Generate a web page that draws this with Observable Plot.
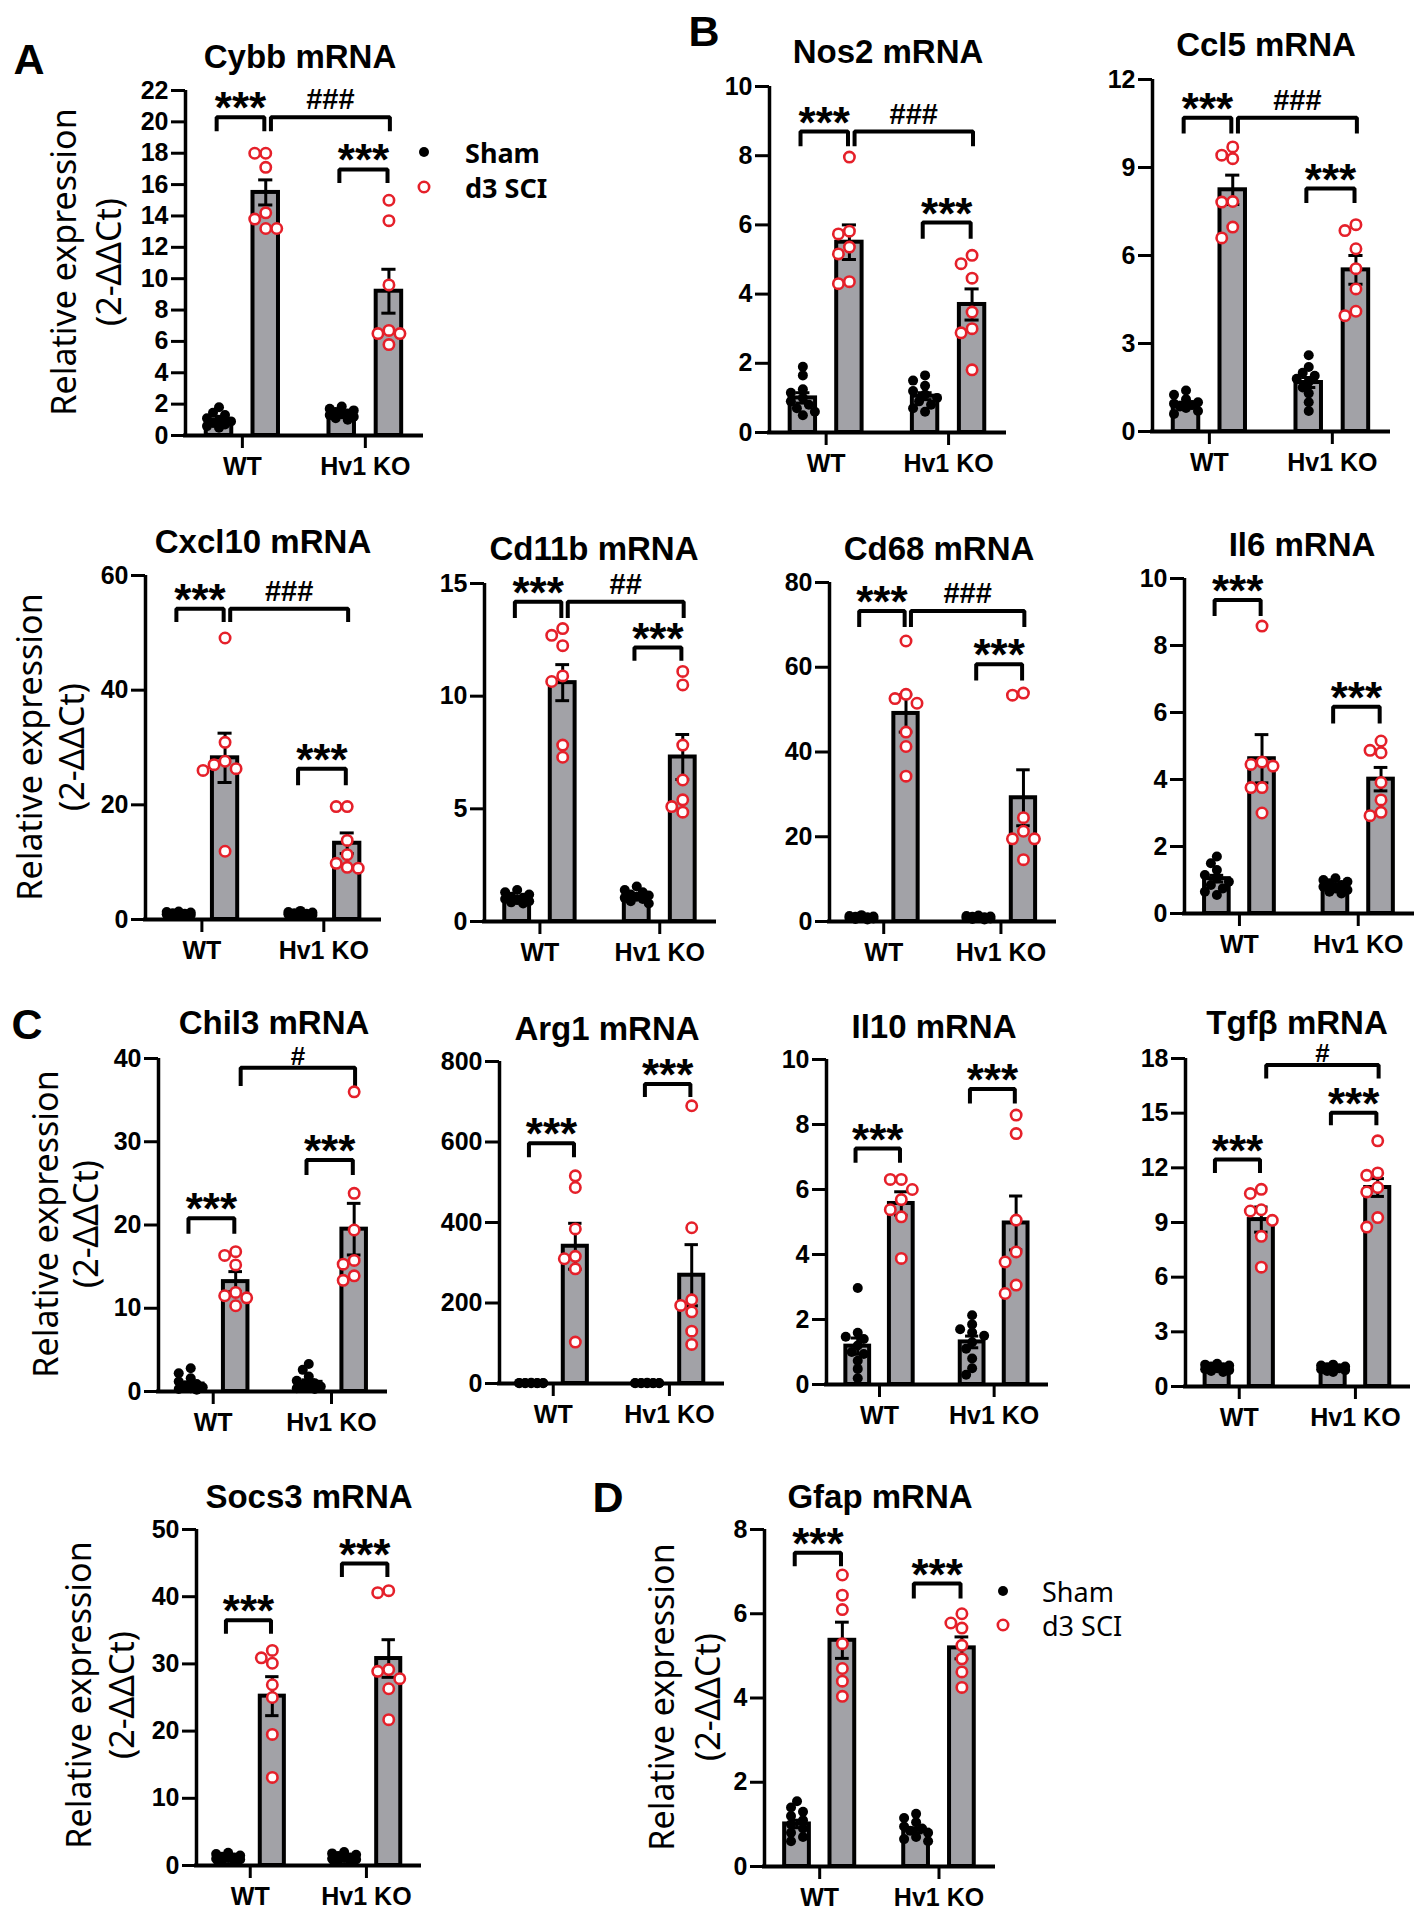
<!DOCTYPE html>
<html><head><meta charset="utf-8">
<script src="https://cdn.jsdelivr.net/npm/d3@7"></script>
<script src="https://cdn.jsdelivr.net/npm/@observablehq/plot@0.6"></script>
<style>
html,body{margin:0;padding:0;background:#fff;}
#page{position:relative;width:1421px;height:1920px;overflow:hidden;background:#fff;font-family:"Liberation Sans",Arial,sans-serif;color:#000;}
.t{position:absolute;white-space:nowrap;line-height:1;}
</style></head>
<body><div id="page"></div>
<script>
// ---------------- DATA ----------------
const groupLabels = ["WT", "Hv1 KO"];
const conditionLabels = ["Sham", "d3 SCI"];
const yLabelLines = ["Relative expression", "(2-ΔΔCt)"];

// Cybb
const cybbMean = [0.95, 15.5, 1.35, 9.2];
const cybbSem = [0.1, 0.8, 0.08, 1.4];
const cybbShamWT = [1.8, 1.45, 1.3, 1.1, 1.0, 0.9, 0.8, 0.7, 0.6, 0.5];
const cybbSciWT = [18.0, 18.0, 17.1, 14.2, 13.8, 13.2, 13.2];
const cybbShamKO = [1.85, 1.7, 1.6, 1.5, 1.4, 1.35, 1.3, 1.2, 1.1, 1.0];
const cybbSciKO = [15.0, 13.7, 9.6, 6.7, 6.5, 6.5, 5.8];
const cybbTicks = [0, 2, 4, 6, 8, 10, 12, 14, 16, 18, 20, 22];
const cybbSig = [[0, 1, 20.3, 19.4, "***"], [1, 3, 20.3, 19.4, "###"], [2, 3, 16.97, 16.1, "***"]];

// Nos2
const nos2Mean = [1.0, 5.5, 1.05, 3.7];
const nos2Sem = [0.15, 0.5, 0.1, 0.45];
const nos2ShamWT = [1.9, 1.65, 1.25, 1.15, 1.0, 0.9, 0.8, 0.7, 0.6, 0.5];
const nos2SciWT = [7.96, 5.82, 5.74, 5.36, 5.16, 4.36, 4.3];
const nos2ShamKO = [1.65, 1.5, 1.35, 1.2, 1.1, 1.0, 0.9, 0.8, 0.7, 0.6];
const nos2SciKO = [5.12, 4.88, 4.46, 3.48, 3.0, 2.88, 1.81];
const nos2Ticks = [0, 2, 4, 6, 8, 10];
const nos2Sig = [[0, 1, 8.7, 8.27, "***"], [1, 3, 8.7, 8.27, "###"], [2, 3, 6.07, 5.6, "***"]];

// Ccl5
const ccl5Mean = [0.94, 8.24, 1.67, 5.51];
const ccl5Sem = [0.06, 0.5, 0.17, 0.49];
const ccl5ShamWT = [1.4, 1.25, 1.1, 1.0, 0.95, 0.9, 0.85, 0.8, 0.7, 0.6];
const ccl5SciWT = [9.7, 9.42, 9.3, 7.84, 7.82, 6.97, 6.6];
const ccl5ShamKO = [2.6, 2.2, 2.0, 1.9, 1.8, 1.7, 1.5, 1.3, 1.0, 0.7];
const ccl5SciKO = [7.05, 6.85, 6.23, 5.55, 4.86, 4.1, 3.95];
const ccl5Ticks = [0, 3, 6, 9, 12];
const ccl5Sig = [[0, 1, 10.7, 10.16, "***"], [1, 3, 10.7, 10.16, "###"], [2, 3, 8.28, 7.79, "***"]];

// Cxcl10
const cxcl10Mean = [1.0, 28.2, 1.0, 13.3];
const cxcl10Sem = [0.08, 4.3, 0.08, 1.8];
const cxcl10ShamWT = [1.4, 1.3, 1.2, 1.1, 1.0, 1.0, 0.9, 0.8, 0.7, 0.6];
const cxcl10SciWT = [49.1, 30.9, 27.6, 27.0, 26.3, 26.0, 11.9];
const cxcl10ShamKO = [1.5, 1.3, 1.2, 1.1, 1.0, 0.9, 0.9, 0.8, 0.7, 0.6];
const cxcl10SciKO = [19.7, 19.7, 13.8, 11.3, 9.8, 9.1, 8.95];
const cxcl10Ticks = [0, 20, 40, 60];
const cxcl10Sig = [[0, 1, 54.2, 51.9, "***"], [1, 3, 54.2, 51.9, "###"], [2, 3, 26.3, 23.4, "***"]];

// Cd11b
const cd11bMean = [1.05, 10.6, 1.15, 7.3];
const cd11bSem = [0.05, 0.8, 0.05, 1.0];
const cd11bShamWT = [1.4, 1.3, 1.2, 1.1, 1.05, 1.0, 0.95, 0.9, 0.85, 0.8];
const cd11bSciWT = [13.0, 12.7, 12.24, 10.9, 10.65, 7.83, 7.29];
const cd11bShamKO = [1.55, 1.4, 1.3, 1.2, 1.15, 1.1, 1.05, 1.0, 0.9, 0.8];
const cd11bSciKO = [11.1, 10.5, 7.83, 6.28, 5.4, 5.1, 4.85];
const cd11bTicks = [0, 5, 10, 15];
const cd11bSig = [[0, 1, 14.19, 13.47, "***"], [1, 3, 14.19, 13.47, "##"], [2, 3, 12.16, 11.57, "***"]];

// Cd68
const cd68Mean = [1.0, 49.1, 1.0, 29.2];
const cd68Sem = [0.1, 4.4, 0.1, 6.6];
const cd68ShamWT = [1.5, 1.3, 1.2, 1.1, 1.0, 0.9, 0.8, 0.7, 0.6, 0.5];
const cd68SciWT = [66.2, 53.6, 52.6, 51.5, 44.7, 41.3, 34.3];
const cd68ShamKO = [1.4, 1.3, 1.2, 1.1, 1.0, 0.9, 0.8, 0.7, 0.6, 0.5];
const cd68SciKO = [53.9, 53.4, 24.5, 21.3, 19.5, 19.5, 14.6];
const cd68Ticks = [0, 20, 40, 60, 80];
const cd68Sig = [[0, 1, 73.3, 69.5, "***"], [1, 3, 73.3, 69.5, "###"], [2, 3, 60.7, 56.9, "***"]];

// Il6
const il6Mean = [1.04, 4.62, 0.84, 4.01];
const il6Sem = [0.1, 0.72, 0.04, 0.35];
const il6ShamWT = [1.7, 1.5, 1.3, 1.15, 1.05, 0.95, 0.85, 0.75, 0.65, 0.55];
const il6SciWT = [8.58, 4.52, 4.45, 4.4, 3.76, 3.76, 3.0];
const il6ShamKO = [1.05, 1.0, 0.95, 0.9, 0.85, 0.8, 0.75, 0.7, 0.65, 0.6];
const il6SciKO = [5.15, 4.87, 4.8, 3.91, 3.39, 3.02, 2.92];
const il6Ticks = [0, 2, 4, 6, 8, 10];
const il6Sig = [[0, 1, 9.36, 8.88, "***"], [2, 3, 6.17, 5.67, "***"]];

// Chil3
const chil3Mean = [0.9, 13.2, 1.1, 19.5];
const chil3Sem = [0.25, 1.2, 0.3, 3.1];
const chil3ShamWT = [2.8, 2.2, 1.6, 1.2, 0.9, 0.7, 0.5, 0.4, 0.3, 0.2];
const chil3SciWT = [16.8, 16.35, 15.2, 11.9, 11.5, 11.25, 10.3];
const chil3ShamKO = [3.3, 2.6, 1.8, 1.3, 1.0, 0.8, 0.6, 0.5, 0.4, 0.3];
const chil3SciKO = [36.0, 23.8, 19.4, 15.75, 15.3, 13.9, 13.35];
const chil3Ticks = [0, 10, 20, 30, 40];
const chil3Sig = [[0, 1, 20.8, 18.96, "***"], [1, 3, 38.9, 36.7, "#"], [2, 3, 27.8, 26.0, "***"]];

// Arg1
const arg1Mean = [1, 341, 1, 269];
const arg1Sem = [0.1, 57, 0.1, 76];
const arg1ShamWT = [1.8, 1.5, 1.3, 1.1, 1.0, 0.9, 0.8, 0.7, 0.6, 0.5];
const arg1SciWT = [516, 487, 384, 316, 310, 285, 103];
const arg1ShamKO = [1.6, 1.4, 1.2, 1.1, 1.0, 0.9, 0.8, 0.7, 0.6, 0.5];
const arg1SciKO = [690, 387, 208, 194, 178, 130, 97];
const arg1Ticks = [0, 200, 400, 600, 800];
const arg1Sig = [[0, 1, 597, 562, "***"], [2, 3, 744, 712, "***"]];

// Il10
const il10Mean = [1.18, 5.57, 1.31, 4.97];
const il10Sem = [0.25, 0.36, 0.18, 0.83];
const il10ShamWT = [2.97, 1.59, 1.47, 1.4, 1.2, 1.0, 0.94, 0.73, 0.48, 0.19];
const il10SciWT = [6.31, 6.31, 6.0, 5.69, 5.38, 5.16, 3.88];
const il10ShamKO = [2.13, 1.85, 1.7, 1.6, 1.5, 1.3, 1.1, 0.8, 0.5, 0.3];
const il10SciKO = [8.29, 7.72, 5.06, 4.08, 3.77, 3.06, 2.8];
const il10Ticks = [0, 2, 4, 6, 8, 10];
const il10Sig = [[0, 1, 7.26, 6.82, "***"], [2, 3, 9.09, 8.65, "***"]];

// Tgfb
const tgfbMean = [1.0, 9.16, 1.0, 10.92];
const tgfbSem = [0.04, 0.69, 0.04, 0.49];
const tgfbShamWT = [1.25, 1.2, 1.15, 1.1, 1.05, 1.0, 0.95, 0.9, 0.85, 0.8];
const tgfbSciWT = [10.82, 10.59, 9.7, 9.63, 9.12, 8.24, 6.55];
const tgfbShamKO = [1.2, 1.15, 1.1, 1.05, 1.0, 1.0, 0.95, 0.9, 0.85, 0.8];
const tgfbSciKO = [13.48, 11.72, 11.59, 10.92, 10.68, 9.27, 8.75];
const tgfbTicks = [0, 3, 6, 9, 12, 15, 18];
const tgfbSig = [[0, 1, 12.46, 11.72, "***"], [1, 3, 17.64, 16.9, "#"], [2, 3, 15.02, 14.34, "***"]];

// Socs3
const socs3Mean = [1.1, 25.2, 1.1, 30.8];
const socs3Sem = [0.1, 2.9, 0.1, 2.8];
const socs3ShamWT = [1.9, 1.7, 1.5, 1.3, 1.2, 1.1, 1.0, 0.9, 0.8, 0.7];
const socs3SciWT = [32.0, 30.9, 30.1, 26.9, 25.0, 19.5, 13.1];
const socs3ShamKO = [2.0, 1.8, 1.6, 1.4, 1.2, 1.1, 1.0, 0.9, 0.8, 0.7];
const socs3SciKO = [40.9, 40.6, 29.15, 28.9, 27.8, 26.3, 21.7];
const socs3Ticks = [0, 10, 20, 30, 40, 50];
const socs3Sig = [[0, 1, 36.5, 34.5, "***"], [2, 3, 44.95, 42.95, "***"]];

// Gfap
const gfapMean = [1.01, 5.37, 0.86, 5.19];
const gfapSem = [0.09, 0.43, 0.06, 0.26];
const gfapShamWT = [1.55, 1.4, 1.3, 1.2, 1.1, 1.0, 0.9, 0.8, 0.7, 0.6];
const gfapSciWT = [6.92, 6.44, 6.1, 5.29, 4.7, 4.4, 4.04];
const gfapShamKO = [1.25, 1.15, 1.05, 0.95, 0.9, 0.85, 0.8, 0.7, 0.65, 0.6];
const gfapSciKO = [6.0, 5.78, 5.66, 5.25, 4.93, 4.62, 4.25];
const gfapTicks = [0, 2, 4, 6, 8];
const gfapSig = [[0, 1, 7.45, 7.13, "***"], [2, 3, 6.72, 6.36, "***"]];

// ---------------- PANELS ----------------
const panels = [
  {title: "Cybb mRNA", mean: cybbMean, sem: cybbSem, pts: [cybbShamWT, cybbSciWT, cybbShamKO, cybbSciKO], ticks: cybbTicks, sig: cybbSig},
  {title: "Nos2 mRNA", mean: nos2Mean, sem: nos2Sem, pts: [nos2ShamWT, nos2SciWT, nos2ShamKO, nos2SciKO], ticks: nos2Ticks, sig: nos2Sig},
  {title: "Ccl5 mRNA", mean: ccl5Mean, sem: ccl5Sem, pts: [ccl5ShamWT, ccl5SciWT, ccl5ShamKO, ccl5SciKO], ticks: ccl5Ticks, sig: ccl5Sig},
  {title: "Cxcl10 mRNA", mean: cxcl10Mean, sem: cxcl10Sem, pts: [cxcl10ShamWT, cxcl10SciWT, cxcl10ShamKO, cxcl10SciKO], ticks: cxcl10Ticks, sig: cxcl10Sig},
  {title: "Cd11b mRNA", mean: cd11bMean, sem: cd11bSem, pts: [cd11bShamWT, cd11bSciWT, cd11bShamKO, cd11bSciKO], ticks: cd11bTicks, sig: cd11bSig},
  {title: "Cd68 mRNA", mean: cd68Mean, sem: cd68Sem, pts: [cd68ShamWT, cd68SciWT, cd68ShamKO, cd68SciKO], ticks: cd68Ticks, sig: cd68Sig},
  {title: "Il6 mRNA", mean: il6Mean, sem: il6Sem, pts: [il6ShamWT, il6SciWT, il6ShamKO, il6SciKO], ticks: il6Ticks, sig: il6Sig},
  {title: "Chil3 mRNA", mean: chil3Mean, sem: chil3Sem, pts: [chil3ShamWT, chil3SciWT, chil3ShamKO, chil3SciKO], ticks: chil3Ticks, sig: chil3Sig},
  {title: "Arg1 mRNA", mean: arg1Mean, sem: arg1Sem, pts: [arg1ShamWT, arg1SciWT, arg1ShamKO, arg1SciKO], ticks: arg1Ticks, sig: arg1Sig},
  {title: "Il10 mRNA", mean: il10Mean, sem: il10Sem, pts: [il10ShamWT, il10SciWT, il10ShamKO, il10SciKO], ticks: il10Ticks, sig: il10Sig},
  {title: "Tgfβ mRNA", mean: tgfbMean, sem: tgfbSem, pts: [tgfbShamWT, tgfbSciWT, tgfbShamKO, tgfbSciKO], ticks: tgfbTicks, sig: tgfbSig},
  {title: "Socs3 mRNA", mean: socs3Mean, sem: socs3Sem, pts: [socs3ShamWT, socs3SciWT, socs3ShamKO, socs3SciKO], ticks: socs3Ticks, sig: socs3Sig},
  {title: "Gfap mRNA", mean: gfapMean, sem: gfapSem, pts: [gfapShamWT, gfapSciWT, gfapShamKO, gfapSciKO], ticks: gfapTicks, sig: gfapSig}
];

// frame (axis) positions on the page and title centres
const layout = [
  {left: 185, right: 421, top: 90, bottom: 435, tx: 300, ty: 56},
  {left: 769, right: 1004, top: 86, bottom: 432, tx: 888, ty: 51},
  {left: 1152, right: 1388, top: 79, bottom: 431, tx: 1266, ty: 44},
  {left: 145, right: 379, top: 575, bottom: 919, tx: 263, ty: 541},
  {left: 484, right: 714, top: 583, bottom: 921, tx: 594, ty: 548},
  {left: 829, right: 1054, top: 582, bottom: 921, tx: 939, ty: 548},
  {left: 1184, right: 1412, top: 578, bottom: 913, tx: 1302, ty: 544},
  {left: 158, right: 385, top: 1058, bottom: 1391, tx: 274, ty: 1022},
  {left: 499, right: 722, top: 1061, bottom: 1383, tx: 607, ty: 1028},
  {left: 826, right: 1046, top: 1059, bottom: 1384, tx: 934, ty: 1026},
  {left: 1185, right: 1408, top: 1058, bottom: 1386, tx: 1297, ty: 1022},
  {left: 196, right: 419, top: 1529, bottom: 1865, tx: 309, ty: 1496},
  {left: 764, right: 993, top: 1529, bottom: 1866, tx: 880, ty: 1496}
];

const yLabelPos = [
  {x1: 63, x2: 108, y: 262},
  {x1: 29, x2: 71, y: 747},
  {x1: 45, x2: 85, y: 1224},
  {x1: 78, x2: 121, y: 1695},
  {x1: 661, x2: 707, y: 1697}
];
const letters = [["A", 29, 59], ["B", 704, 31], ["C", 27, 1024], ["D", 608, 1497]];
const legends = [
  {sx: 424, y1: 152, y2: 187, tx: 465, bold: true},
  {sx: 1003, y1: 1591, y2: 1625, tx: 1042, bold: false}
];

// ---------------- DRAWING ----------------
const page = document.getElementById("page");
const slot = [0.142, 0.340, 0.662, 0.862];          // bar centres (fraction of frame)
const groupCenters = [(slot[0] + slot[1]) / 2, (slot[2] + slot[3]) / 2];
const barHalf = 0.054;
const BAR_FILL = "#a2a2a7";
const RED = "#e5202a";
const FONT = "'Liberation Sans', Arial, Helvetica, sans-serif";
const SANS2 = "'Noto Sans','Open Sans',sans-serif";

function dodge(values, center, pxY, pxX, step, minDist, maxSlot) {
  const placed = [];
  const order = values.map((v, i) => i).sort((a, b) => values[b] - values[a]);
  const cands = [0];
  for (let k = 1; k <= maxSlot; k++) cands.push(-k, k);
  const out = [];
  for (const i of order) {
    const py = values[i] * pxY;
    let chosen = null;
    for (const c of cands) {
      const px = c * step;
      if (placed.every(p => Math.hypot(p.px - px, p.py - py) >= minDist)) { chosen = px; break; }
    }
    if (chosen === null) {
      let best = -1;
      for (const c of cands) {
        const px = c * step;
        const d = Math.min(...placed.map(p => Math.hypot(p.px - px, p.py - py)));
        if (d > best) { best = d; chosen = px; }
      }
    }
    placed.push({px: chosen, py});
    out.push({value: values[i], x: center + chosen / pxX});
  }
  return out;
}

function addText(txt, x, y, css) {
  const d = document.createElement("div");
  d.className = "t";
  d.textContent = txt;
  d.style.cssText = "left:" + x + "px;top:" + y + "px;" + css;
  page.appendChild(d);
  return d;
}

panels.forEach((p, idx) => {
  const L = layout[idx];
  const ymax = p.ticks[p.ticks.length - 1];
  const W = L.right - L.left, H = L.bottom - L.top;
  const ML = 80, MR = 8, MT = 40, MB = 60;
  const pxY = H / ymax, pxX = W;

  const bars = p.mean.map((m, i) => ({
    xc: slot[i], x1: slot[i] - barHalf, x2: slot[i] + barHalf,
    mean: m, lo: m - p.sem[i], hi: m + p.sem[i]
  }));
  const sham = [], sci = [];
  p.pts.forEach((vals, i) => {
    if (i % 2 === 0) dodge(vals, slot[i], pxY, pxX, 6, 8, 2).forEach(d => sham.push(d));
    else dodge(vals, slot[i], pxY, pxX, 11, 11, 2).forEach(d => sci.push(d));
  });
  const brLines = [], brLabels = [];
  p.sig.forEach(([a, b, top, foot, label], k) => {
    let x1 = slot[a], x2 = slot[b];
    if (b - a === 2) { x1 += 0.022; x2 += 0.004; } else { x1 -= 0.01; x2 -= 0.006; }
    brLines.push({k, x: x1, y: foot}, {k, x: x1, y: top}, {k, x: x2, y: top}, {k, x: x2, y: foot});
    brLabels.push({x: (x1 + x2) / 2, y: top, label, kind: label[0] === "*" ? "star" : (label.length === 1 ? "hash1" : "hash")});
  });

  const svg = Plot.plot({
    width: W + ML + MR, height: H + MT + MB,
    marginLeft: ML, marginRight: MR, marginTop: MT, marginBottom: MB,
    x: {domain: [0, 1], axis: null},
    y: {domain: [0, ymax], axis: null},
    style: {fontFamily: FONT, background: "transparent", overflow: "visible", color: "#000"},
    marks: [
      Plot.rect(bars, {x1: "x1", x2: "x2", y1: 0, y2: "mean", fill: BAR_FILL, stroke: "#000", strokeWidth: 4}),
      Plot.ruleX(bars, {x: "xc", y1: "lo", y2: "hi", stroke: "#000", strokeWidth: 3}),
      Plot.ruleY(bars, {y: "hi", x1: d => d.xc - 0.03, x2: d => d.xc + 0.03, stroke: "#000", strokeWidth: 3}),
      Plot.ruleY(bars, {y: "lo", x1: d => d.xc - 0.03, x2: d => d.xc + 0.03, stroke: "#000", strokeWidth: 3}),
      Plot.ruleX([0], {y1: 0, y2: ymax, stroke: "#000", strokeWidth: 3.5}),
      Plot.ruleY([0], {x1: 0, x2: 1, stroke: "#000", strokeWidth: 4, strokeLinecap: "square"}),
      Plot.axisY({ticks: p.ticks, tickSize: 14, tickPadding: 3, fontSize: 25, fontWeight: "bold", strokeWidth: 3, label: null, tickFormat: d => String(d)}),
      Plot.axisX({ticks: groupCenters, tickSize: 13, tickPadding: 9, fontSize: 25, fontWeight: "bold", strokeWidth: 3, label: null,
        tickFormat: d => groupLabels[groupCenters.indexOf(d)]}),
      Plot.line(brLines, {x: "x", y: "y", z: "k", stroke: "#000", strokeWidth: 4, strokeLinejoin: "miter", strokeLinecap: "butt"}),
      Plot.text(brLabels.filter(d => d.kind === "star"), {x: "x", y: "y", text: "label", fontSize: 44, fontWeight: "bold", lineAnchor: "middle", dy: -8}),
      Plot.text(brLabels.filter(d => d.kind === "hash"), {x: "x", y: "y", text: "label", fontSize: 29, fontWeight: "bold", lineAnchor: "middle", dy: -17}),
      Plot.text(brLabels.filter(d => d.kind === "hash1"), {x: "x", y: "y", text: "label", fontSize: 26, fontWeight: "bold", lineAnchor: "middle", dy: -11}),
      Plot.dot(sham, {x: "x", y: "value", r: 5, fill: "#000", stroke: "none"}),
      Plot.dot(sci, {x: "x", y: "value", r: 5.2, fill: "#fff", stroke: RED, strokeWidth: 2.6})
    ]
  });
  svg.style.position = "absolute";
  svg.style.left = (L.left - ML) + "px";
  svg.style.top = (L.top - MT) + "px";
  svg.style.maxWidth = "none";
  page.appendChild(svg);

  addText(p.title, L.tx, L.ty, "font-size:33px;font-weight:bold;transform:translate(-50%,-50%);font-family:" + FONT + ";");
});

yLabelPos.forEach(q => {
  addText(yLabelLines[0], q.x1, q.y, "font-size:34px;font-family:" + SANS2 + ";transform:translate(-50%,-50%) rotate(-90deg);");
  addText(yLabelLines[1], q.x2, q.y, "font-size:34px;font-family:" + SANS2 + ";transform:translate(-50%,-50%) rotate(-90deg);");
});

letters.forEach(([s, x, y]) => addText(s, x, y, "font-size:43px;font-weight:bold;transform:translate(-50%,-50%);font-family:" + FONT + ";"));

legends.forEach(g => {
  const ns = "http://www.w3.org/2000/svg";
  [[g.y1, true], [g.y2, false]].forEach(([y, filled], i) => {
    const s = document.createElementNS(ns, "svg");
    s.setAttribute("width", 16); s.setAttribute("height", 16);
    s.style.position = "absolute"; s.style.left = (g.sx - 8) + "px"; s.style.top = (y - 8) + "px";
    const c = document.createElementNS(ns, "circle");
    c.setAttribute("cx", 8); c.setAttribute("cy", 8); c.setAttribute("r", filled ? 5 : 5.2);
    c.setAttribute("fill", filled ? "#000" : "#fff");
    if (!filled) { c.setAttribute("stroke", RED); c.setAttribute("stroke-width", 2.6); }
    s.appendChild(c);
    page.appendChild(s);
    addText(conditionLabels[i], g.tx, y, "font-size:27px;font-family:" + SANS2 + ";transform:translate(0,-50%);font-weight:" + (g.bold ? "bold" : "normal") + ";");
  });
});
</script>
</body></html>
